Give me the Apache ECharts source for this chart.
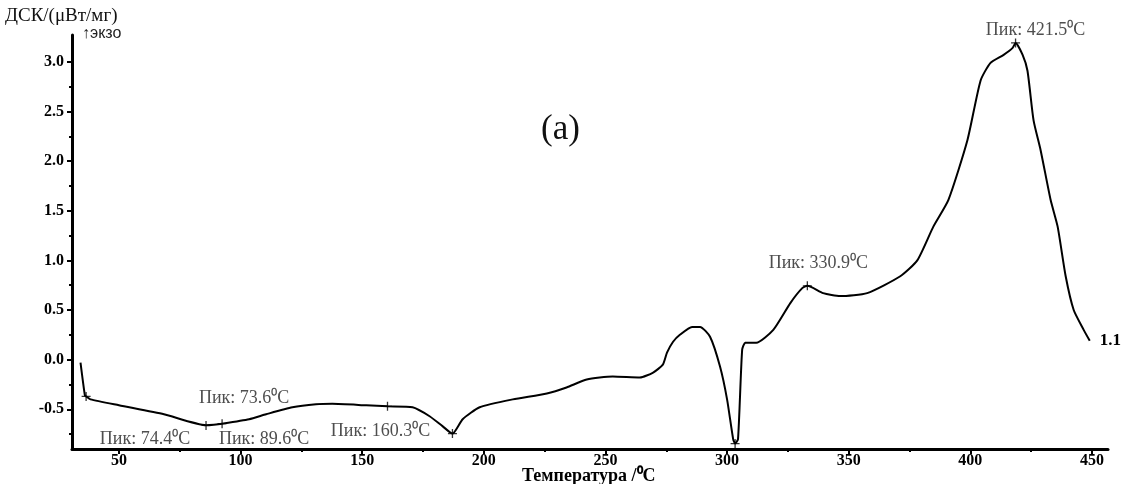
<!DOCTYPE html>
<html>
<head>
<meta charset="utf-8">
<script src="https://cdn.jsdelivr.net/npm/echarts@6/dist/echarts.min.js"></script>
<style>
html,body{margin:0;padding:0;background:#fff;}
#main{width:1122px;height:484px;}
</style>
</head>
<body>
<div id="main"></div>
<script>
// ---- data ----
var temperature = [34.2,36.0,36.5,38.3,50,68.5,85.8,89,92.4,103.5,110.5,121.3,131,137.7,151.7,160.4,170.7,177.7,183,187.1,191.3,198.3,211.9,225.9,234,242.3,253,264.2,269.6,273.6,275.3,277.8,280.6,285.6,288.9,293,297.1,300,302.5,303.3,304.5,306.2,307.4,308,312,319,326,330.9,333,339.5,346.5,357.6,371.2,378.2,384.8,391,398.8,404.2,408.3,413.7,417.4,418.6,421.5,423.5,426,428.9,433,435.9,439.2,442.5,446.6,449.1];
var dsc = [-0.03,-0.36,-0.37,-0.40,-0.46,-0.55,-0.66,-0.655,-0.645,-0.60,-0.55,-0.48,-0.45,-0.445,-0.46,-0.47,-0.48,-0.57,-0.67,-0.745,-0.60,-0.48,-0.40,-0.34,-0.28,-0.20,-0.17,-0.18,-0.13,-0.05,0.07,0.18,0.25,0.33,0.33,0.23,-0.07,-0.40,-0.80,-0.845,-0.80,0.10,0.17,0.17,0.17,0.30,0.57,0.72,0.744,0.67,0.64,0.67,0.84,1.0,1.34,1.61,2.21,2.81,2.99,3.07,3.14,3.19,3.07,2.91,2.41,2.11,1.61,1.34,0.84,0.50,0.30,0.19];

var peakT = [36.5, 85.8, 92.4, 160.4, 187.1, 303.3, 333.0, 418.6];
var peakV = [-0.37, -0.663, -0.645, -0.47, -0.745, -0.845, 0.744, 3.19];

var peakLabels = ['Пик: 74.4⁰C', 'Пик: 73.6⁰C', 'Пик: 89.6⁰C', 'Пик: 160.3⁰C', 'Пик: 330.9⁰C', 'Пик: 421.5⁰C'];
var peakLabelOf = [1, 2, 2, 3, 6, 7];

var xTicks = [50, 100, 150, 200, 250, 300, 350, 400, 450];
var xMinorTicks = [50, 75, 100, 125, 150, 175, 200, 225, 250, 275, 300, 325, 350, 375, 400, 425, 450];
var yTicks = [-0.5, 0.0, 0.5, 1.0, 1.5, 2.0, 2.5, 3.0];
var yMinorTicks = [-0.75, -0.5, -0.25, 0, 0.25, 0.5, 0.75, 1.0, 1.25, 1.5, 1.75, 2.0, 2.25, 2.5, 2.75, 3.0];

var yAxisTitle = 'ДСК/(μВт/мг)';
var exoLabel = '↑экзо';
var xAxisTitle = 'Температура /⁰C';
var panelTitle = '(a)';
var curveName = '1.1';

// ---- layout / style ----
var labelOffsets = [[-61, 14], [22, -25], [42, 16], [-7, 25], [11, -23], [20, -13]];
var serif = '"Liberation Serif", "Times New Roman", serif';

var chart = echarts.init(document.getElementById('main'), null, {renderer: 'canvas'});

var curve = temperature.map(function (t, i) { return [t, dsc[i]]; });
var peaks = peakT.map(function (t, i) { return [t, peakV[i]]; });
var labelItems = peakLabels.map(function (txt, i) {
  var k = peakLabelOf[i];
  return {
    value: [peakT[k], peakV[k]],
    label: { show: true, position: 'inside', formatter: txt, offset: labelOffsets[i] }
  };
});

var X_MIN = 30.7, X_MAX = 456.6, Y_MIN = -0.9, Y_MAX = 3.27;

var option = {
  backgroundColor: '#ffffff',
  animation: false,
  grid: { left: 72, right: 14, top: 35, bottom: 35, containLabel: false, outerBoundsMode: 'none' },
  xAxis: [{
    type: 'value', min: X_MIN, max: X_MAX,
    axisLine: { show: true, onZero: false, lineStyle: { color: '#000', width: 3 } },
    axisTick: { show: true, inside: false, length: 5, lineStyle: { color: '#000', width: 2 }, customValues: xTicks },
    axisLabel: { show: true, margin: 4, fontFamily: serif, fontWeight: 'bold', fontSize: 16, color: '#000', customValues: xTicks },
    splitLine: { show: false }
  }, {
    type: 'value', min: X_MIN, max: X_MAX, position: 'bottom',
    axisLine: { show: false, onZero: false },
    axisTick: { show: true, length: 3, lineStyle: { color: '#000', width: 2 }, customValues: xMinorTicks },
    axisLabel: { show: false },
    splitLine: { show: false }
  }],
  yAxis: [{
    type: 'value', min: Y_MIN, max: Y_MAX,
    axisLine: { show: true, onZero: false, lineStyle: { color: '#000', width: 3 } },
    axisTick: { show: true, length: 5, lineStyle: { color: '#000', width: 2 }, customValues: yTicks },
    axisLabel: { show: true, margin: 8, fontFamily: serif, fontWeight: 'bold', fontSize: 16, color: '#000',
      customValues: yTicks, formatter: function (v) { return v.toFixed(1); } },
    splitLine: { show: false }
  }, {
    type: 'value', min: Y_MIN, max: Y_MAX, position: 'left',
    axisLine: { show: false, onZero: false },
    axisTick: { show: true, length: 3, lineStyle: { color: '#000', width: 2 }, customValues: yMinorTicks },
    axisLabel: { show: false },
    splitLine: { show: false }
  }],
  graphic: [
    { type: 'text', left: 5, top: 7, style: { text: yAxisTitle, font: '19px ' + serif, fill: '#111' } },
    { type: 'text', left: 82, top: 26, style: { text: exoLabel, font: '16px "Liberation Sans", Arial, sans-serif', fill: '#222' } },
    { type: 'text', left: 541, top: 112, style: { text: panelTitle, font: '35px ' + serif, fill: '#111' } },
    { type: 'text', left: 522, top: 467, style: { text: xAxisTitle, font: 'bold 18px ' + serif, fill: '#000' } }
  ],
  series: [{
    type: 'line', name: curveName, data: curve, showSymbol: false, symbol: 'none',
    smooth: 0.2,
    lineStyle: { color: '#000', width: 2 },
    endLabel: { show: true, formatter: curveName, distance: 10, fontFamily: serif, fontWeight: 'bold', fontSize: 17, color: '#000' },
    z: 3
  }, {
    type: 'scatter', data: peaks,
    symbol: 'path://M5,0L5,10M0,5L10,5', symbolSize: [9, 9],
    itemStyle: { color: 'none', borderColor: '#000', borderWidth: 1.3 },
    z: 4
  }, {
    type: 'scatter', data: labelItems, symbolSize: 1,
    itemStyle: { color: 'rgba(0,0,0,0)' },
    label: { show: true, fontFamily: serif, fontSize: 18, color: '#222' },
    z: 5
  }]
};
chart.setOption(option);
</script>
</body>
</html>
